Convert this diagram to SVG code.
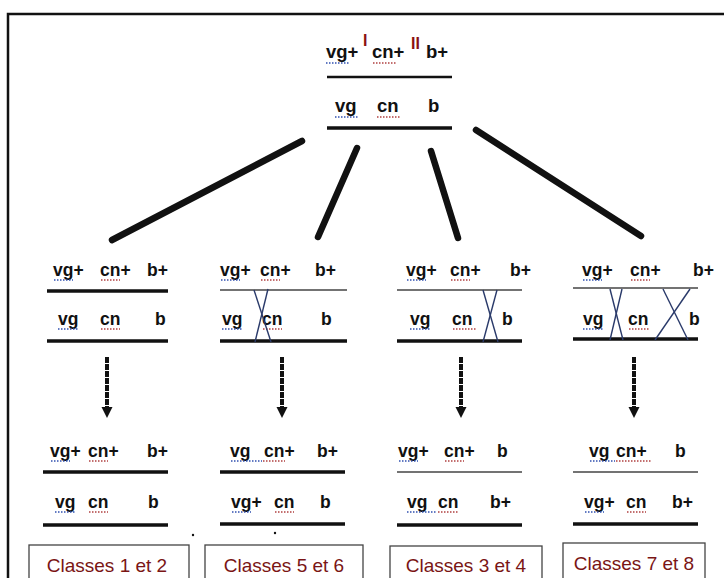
<svg xmlns="http://www.w3.org/2000/svg" width="724" height="578" viewBox="0 0 724 578">
<defs>
<style>
.t{font-family:"Liberation Sans",Arial,sans-serif;font-weight:bold;font-size:17.5px;fill:#111}
.tt{font-family:"Liberation Sans",Arial,sans-serif;font-weight:bold;font-size:18.5px;fill:#111}
.sup{font-family:"Liberation Sans",Arial,sans-serif;font-weight:bold;font-size:16px;fill:#8b1010}
.lab{font-family:"Liberation Sans",Arial,sans-serif;font-size:19px;fill:#7a1515;text-anchor:middle}
.box{fill:none;stroke:#444;stroke-width:1.3}
.thin{stroke:#444;stroke-width:1.6}
.thick{stroke:#111;stroke-width:3.5}
.conn{stroke:#111;stroke-width:6.5;stroke-linecap:round}
.arr{stroke:#111;stroke-width:4;stroke-dasharray:6 1}
.x{stroke:#2a3a6a;stroke-width:1.4}
.sb{stroke:#3050b0;stroke-width:1.3;stroke-dasharray:1.5 1.5}
.sr{stroke:#b04040;stroke-width:1.3;stroke-dasharray:1.5 1.5}
</style>
<marker id="ah" viewBox="0 0 10 10" refX="2" refY="5" markerWidth="2.8" markerHeight="2.8" orient="auto" markerUnits="strokeWidth">
<path d="M0,0 L10,5 L0,10 z" fill="#111"/>
</marker>
</defs>
<rect width="724" height="578" fill="#fff"/>
<path d="M8,578 V14 H724" fill="none" stroke="#111" stroke-width="2.5"/>

<g id="top">
<text class="tt" x="326" y="58">vg+</text>
<text class="sup" x="363" y="46">I</text>
<text class="tt" x="372" y="58">cn+</text>
<text class="sup" x="411" y="49">II</text>
<text class="tt" x="426" y="58">b+</text>
<line class="sb" x1="326" y1="63" x2="350" y2="63"/><line class="sr" x1="373" y1="63" x2="396" y2="63"/>
<line x1="327" y1="77" x2="452" y2="77" stroke="#111" stroke-width="2.5"/>
<text class="tt" x="335" y="112">vg</text>
<text class="tt" x="377" y="112">cn</text>
<text class="tt" x="428" y="112">b</text>
<line class="sb" x1="335" y1="117" x2="358" y2="117"/><line class="sr" x1="377" y1="117" x2="400" y2="117"/>
<line x1="327" y1="128" x2="452" y2="128" stroke="#111" stroke-width="3.5"/>
</g>

<g id="connectors">
<line class="conn" x1="302" y1="141" x2="112" y2="240"/>
<line class="conn" x1="357" y1="148" x2="318" y2="237"/>
<line class="conn" x1="431" y1="151" x2="458" y2="238"/>
<line class="conn" x1="476" y1="130" x2="641" y2="236"/>
<line class="arr" x1="107" y1="357" x2="107" y2="409" marker-end="url(#ah)"/>
<line class="arr" x1="282" y1="357" x2="282" y2="409" marker-end="url(#ah)"/>
<line class="arr" x1="461" y1="357" x2="461" y2="409" marker-end="url(#ah)"/>
<line class="arr" x1="634" y1="357" x2="634" y2="409" marker-end="url(#ah)"/>
</g>

<g id="n1">
<text class="t" x="53" y="276">vg+</text><text class="t" x="100" y="276">cn+</text><text class="t" x="147" y="276">b+</text>
<line class="sb" x1="54" y1="280" x2="73" y2="280"/><line class="sr" x1="101" y1="280" x2="120" y2="280"/>
<line x1="47" y1="291" x2="168" y2="291" class="thick" stroke-width="3"/>
<text class="t" x="58" y="325">vg</text><text class="t" x="100" y="325">cn</text><text class="t" x="155" y="325">b</text>
<line class="sb" x1="58" y1="329" x2="78" y2="329"/><line class="sr" x1="101" y1="329" x2="120" y2="329"/>
<line x1="47" y1="341" x2="168" y2="341" class="thick" stroke-width="3"/>
</g>

<g id="n2">
<text class="t" x="220" y="276">vg+</text><text class="t" x="260" y="276">cn+</text><text class="t" x="315" y="276">b+</text>
<line class="sb" x1="221" y1="280" x2="240" y2="280"/><line class="sr" x1="261" y1="280" x2="280" y2="280"/>
<line x1="220" y1="290" x2="347" y2="290" class="thin"/>
<text class="t" x="222" y="325">vg</text><text class="t" x="262" y="325">cn</text><text class="t" x="321" y="325">b</text>
<line class="sb" x1="222" y1="329" x2="242" y2="329"/><line class="sr" x1="263" y1="329" x2="282" y2="329"/>
<line x1="220" y1="341" x2="347" y2="341" class="thick" stroke-width="4"/>
<line class="x" x1="254" y1="290" x2="271" y2="342"/><line class="x" x1="268" y1="289" x2="255" y2="342"/>
</g>

<g id="n3">
<text class="t" x="406" y="276">vg+</text><text class="t" x="450" y="276">cn+</text><text class="t" x="510" y="276">b+</text>
<line class="sb" x1="407" y1="280" x2="426" y2="280"/><line class="sr" x1="451" y1="280" x2="470" y2="280"/>
<line x1="397" y1="290" x2="522" y2="290" class="thin"/>
<text class="t" x="410" y="325">vg</text><text class="t" x="452" y="325">cn</text><text class="t" x="502" y="325">b</text>
<line class="sb" x1="410" y1="329" x2="430" y2="329"/><line class="sr" x1="453" y1="329" x2="476" y2="329"/>
<line x1="397" y1="341" x2="522" y2="341" class="thick" stroke-width="4"/>
<line class="x" x1="483" y1="290" x2="498" y2="342"/><line class="x" x1="497" y1="290" x2="483" y2="342"/>
</g>

<g id="n4">
<text class="t" x="582" y="276">vg+</text><text class="t" x="630" y="276">cn+</text><text class="t" x="693" y="276">b+</text>
<line class="sb" x1="583" y1="280" x2="602" y2="280"/><line class="sr" x1="631" y1="280" x2="650" y2="280"/>
<line x1="573" y1="288" x2="698" y2="288" class="thin"/>
<text class="t" x="583" y="325">vg</text><text class="t" x="628" y="325">cn</text><text class="t" x="689" y="325">b</text>
<line class="sb" x1="583" y1="329" x2="603" y2="329"/><line class="sr" x1="629" y1="329" x2="650" y2="329"/>
<line x1="573" y1="339" x2="698" y2="339" class="thick" stroke-width="5"/>
<line class="x" x1="610" y1="289" x2="623" y2="340"/><line class="x" x1="622" y1="289" x2="610" y2="340"/>
<line class="x" x1="663" y1="289" x2="688" y2="340"/><line class="x" x1="690" y1="289" x2="655" y2="340"/>
</g>

<g id="r1">
<text class="t" x="50" y="457">vg+</text><text class="t" x="88" y="457">cn+</text><text class="t" x="147" y="457">b+</text>
<line class="sb" x1="51" y1="461" x2="70" y2="461"/><line class="sr" x1="89" y1="461" x2="108" y2="461"/>
<line x1="43" y1="472" x2="168" y2="472" class="thick" stroke-width="4"/>
<text class="t" x="55" y="508">vg</text><text class="t" x="88" y="508">cn</text><text class="t" x="148" y="508">b</text>
<line class="sb" x1="55" y1="512" x2="75" y2="512"/><line class="sr" x1="89" y1="512" x2="108" y2="512"/>
<line x1="43" y1="525" x2="168" y2="525" class="thick" stroke-width="3"/>
<circle cx="193" cy="535" r="1.2" fill="#111"/>
</g>

<g id="r2">
<text class="t" x="230" y="457">vg</text><text class="t" x="264" y="457">cn+</text><text class="t" x="317" y="457">b+</text>
<line class="sb" x1="231" y1="461" x2="262" y2="461"/><line class="sr" x1="263" y1="461" x2="285" y2="461"/>
<line x1="220" y1="472" x2="345" y2="472" class="thick" stroke-width="2.5"/>
<text class="t" x="231" y="508">vg+</text><text class="t" x="274" y="508">cn</text><text class="t" x="320" y="508">b</text>
<line class="sb" x1="232" y1="512" x2="251" y2="512"/><line class="sr" x1="275" y1="512" x2="294" y2="512"/>
<line x1="220" y1="524" x2="345" y2="524" class="thick" stroke-width="4"/>
<circle cx="275" cy="533" r="1.2" fill="#111"/>
</g>

<g id="r3">
<text class="t" x="398" y="457">vg+</text><text class="t" x="444" y="457">cn+</text><text class="t" x="497" y="457">b</text>
<line class="sb" x1="399" y1="461" x2="418" y2="461"/><line class="sr" x1="445" y1="461" x2="464" y2="461"/>
<line x1="397" y1="472" x2="522" y2="472" class="thin"/>
<text class="t" x="407" y="508">vg</text><text class="t" x="438" y="508">cn</text><text class="t" x="490" y="508">b+</text>
<line class="sb" x1="407" y1="512" x2="437" y2="512"/><line class="sr" x1="438" y1="512" x2="459" y2="512"/>
<line x1="397" y1="525" x2="522" y2="525" class="thick" stroke-width="4"/>
</g>

<g id="r4">
<text class="t" x="589" y="457">vg</text><text class="t" x="616" y="457">cn+</text><text class="t" x="675" y="457">b</text>
<line class="sb" x1="590" y1="461" x2="615" y2="461"/><line class="sr" x1="616" y1="461" x2="652" y2="461"/>
<line x1="573" y1="472" x2="698" y2="472" class="thin"/>
<text class="t" x="584" y="508">vg+</text><text class="t" x="626" y="508">cn</text><text class="t" x="672" y="508">b+</text>
<line class="sb" x1="585" y1="512" x2="604" y2="512"/><line class="sr" x1="627" y1="512" x2="646" y2="512"/>
<line x1="573" y1="524" x2="698" y2="524" class="thick" stroke-width="4"/>
</g>

<g id="c1"><rect class="box" x="29" y="545" width="160" height="45"/><text class="lab" x="107" y="572">Classes 1 et 2</text></g>
<g id="c2"><rect class="box" x="205" y="545" width="158" height="45"/><text class="lab" x="284" y="572">Classes 5 et 6</text></g>
<g id="c3"><rect class="box" x="390" y="546" width="152" height="45"/><text class="lab" x="466" y="572">Classes 3 et 4</text></g>
<g id="c4"><rect class="box" x="563" y="543" width="142" height="45"/><text class="lab" x="634" y="570">Classes 7 et 8</text></g>
</svg>
